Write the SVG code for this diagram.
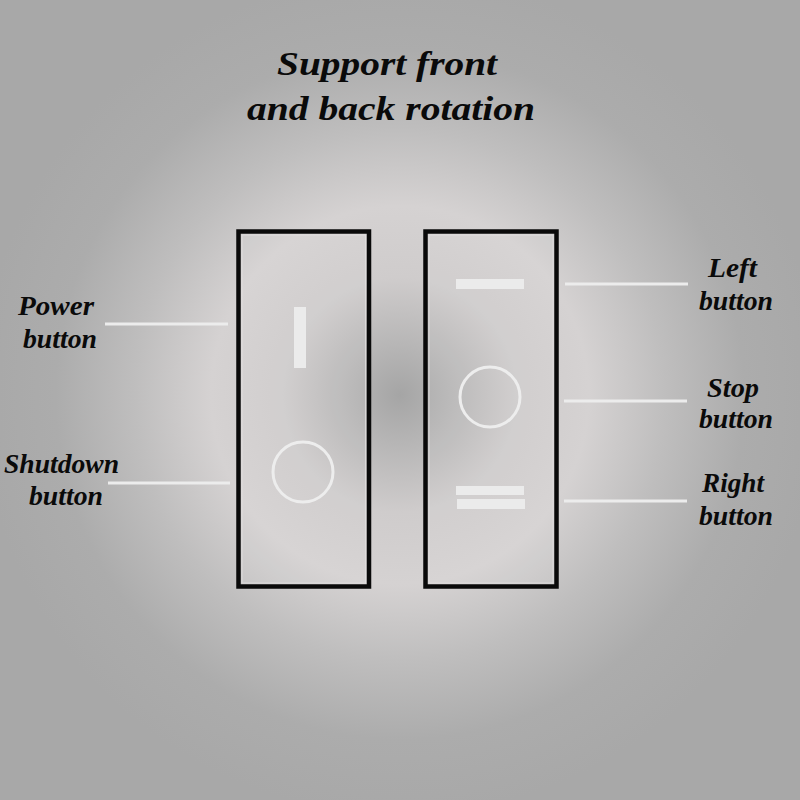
<svg xmlns="http://www.w3.org/2000/svg" width="800" height="800" viewBox="0 0 800 800">
  <defs>
    <radialGradient id="bg" cx="400" cy="395" r="420" gradientUnits="userSpaceOnUse">
      <stop offset="0" stop-color="#a5a5a5"/>
      <stop offset="0.12" stop-color="#b7b6b6"/>
      <stop offset="0.28" stop-color="#cfcccc"/>
      <stop offset="0.45" stop-color="#d5d2d2"/>
      <stop offset="0.63" stop-color="#bfbebe"/>
      <stop offset="0.82" stop-color="#acacac"/>
      <stop offset="1" stop-color="#a8a8a8"/>
    </radialGradient>
    <style>
      .panel { fill: #ffffff; fill-opacity: 0.06; stroke: #0a0a0a; stroke-width: 4.5; }
      .inner { fill: none; stroke: #e2e0e0; stroke-width: 1; opacity: 0.8; }
      .mark { fill: #ebebeb; }
      .ring { fill: none; stroke: #ededed; stroke-width: 3; }
      .lead { stroke: #ececec; stroke-width: 3; stroke-linecap: butt; fill: none; }
      .t { font-family: "Liberation Serif", "Times New Roman", serif; font-style: italic; font-weight: bold; fill: #0a0a0a; }
      .title { font-size: 34px; }
      .lbl { font-size: 28px; }
    </style>
  </defs>
  <rect width="800" height="800" fill="url(#bg)"/>

  <g id="title">
    <text class="t title" x="277" y="75" textLength="220" lengthAdjust="spacingAndGlyphs">Support front</text>
    <text class="t title" x="247" y="120" textLength="288" lengthAdjust="spacingAndGlyphs">and back rotation</text>
  </g>

  <g id="left-panel">
    <rect class="panel" x="238.5" y="231.5" width="130.5" height="355"/>
    <rect class="inner" x="242" y="235" width="123.5" height="348"/>
    <rect class="mark" x="294" y="307" width="12" height="61"/>
    <circle class="ring" cx="303" cy="472" r="30"/>
  </g>

  <g id="right-panel">
    <rect class="panel" x="425.5" y="231.5" width="131" height="355"/>
    <rect class="inner" x="429" y="235" width="124" height="348"/>
    <rect class="mark" x="456" y="279" width="68" height="10"/>
    <circle class="ring" cx="490" cy="397" r="30"/>
    <rect class="mark" x="456" y="486" width="68" height="9"/>
    <rect class="mark" x="457" y="499" width="68" height="10"/>
  </g>

  <g id="connectors">
    <line class="lead" x1="105" y1="324" x2="228" y2="324"/>
    <line class="lead" x1="108" y1="483" x2="230" y2="483"/>
    <line class="lead" x1="565" y1="284" x2="688" y2="284"/>
    <line class="lead" x1="564" y1="401" x2="687" y2="401"/>
    <line class="lead" x1="564" y1="501" x2="687" y2="501"/>
  </g>

  <g id="label-power">
    <text class="t lbl" x="18" y="315" textLength="76" lengthAdjust="spacingAndGlyphs">Power</text>
    <text class="t lbl" x="23" y="348" textLength="74" lengthAdjust="spacingAndGlyphs">button</text>
  </g>
  <g id="label-shutdown">
    <text class="t lbl" x="4" y="473" textLength="115" lengthAdjust="spacingAndGlyphs">Shutdown</text>
    <text class="t lbl" x="29" y="505" textLength="74" lengthAdjust="spacingAndGlyphs">button</text>
  </g>
  <g id="label-left">
    <text class="t lbl" x="708" y="277" textLength="49" lengthAdjust="spacingAndGlyphs">Left</text>
    <text class="t lbl" x="699" y="310" textLength="74" lengthAdjust="spacingAndGlyphs">button</text>
  </g>
  <g id="label-stop">
    <text class="t lbl" x="707" y="397" textLength="52" lengthAdjust="spacingAndGlyphs">Stop</text>
    <text class="t lbl" x="699" y="428" textLength="74" lengthAdjust="spacingAndGlyphs">button</text>
  </g>
  <g id="label-right">
    <text class="t lbl" x="702" y="492" textLength="62" lengthAdjust="spacingAndGlyphs">Right</text>
    <text class="t lbl" x="699" y="525" textLength="74" lengthAdjust="spacingAndGlyphs">button</text>
  </g>
</svg>
